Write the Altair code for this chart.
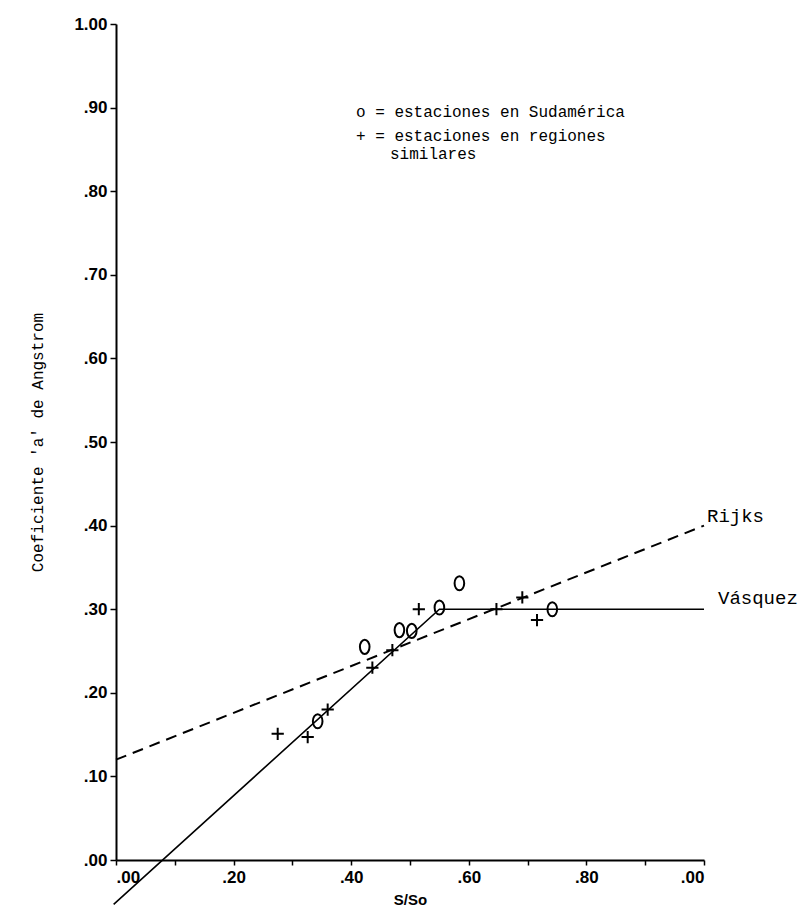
import altair as alt
import pandas as pd

# ---- data ----
sud_x = [0.343, 0.423, 0.482, 0.503, 0.550, 0.584, 0.742]
sud_y = [0.166, 0.255, 0.275, 0.274, 0.302, 0.331, 0.300]

sim_x = [0.275, 0.326, 0.360, 0.436, 0.470, 0.515, 0.647, 0.691, 0.716]
sim_y = [0.151, 0.147, 0.180, 0.230, 0.251, 0.300, 0.300, 0.314, 0.287]

rijks_x = [0.0, 1.0]
rijks_y = [0.12, 0.40]

vasquez_x = [-0.004, 0.55, 1.0]
vasquez_y = [-0.053, 0.30, 0.30]

tick_values = [0.0, 0.1, 0.2, 0.3, 0.4, 0.5, 0.6, 0.7, 0.8, 0.9, 1.0]

line_labels = ["Rijks", "Vásquez"]
line_label_x = [1.0, 1.0]
line_label_y = [0.40, 0.30]

legend_lines = ["o = estaciones en Sudamérica", "+ = estaciones en regiones"]
legend_extra = ["similares"]
y_title = "Coeficiente 'a' de Angstrom"
x_title = "S/So"

# ---- tables ----
sud = pd.DataFrame({"x": sud_x, "y": sud_y})
sim = pd.DataFrame({"x": sim_x, "y": sim_y})
rijks = pd.DataFrame({"x": rijks_x, "y": rijks_y})
vasq = pd.DataFrame({"x": vasquez_x, "y": vasquez_y})

MONO = "Liberation Mono"
SANS = "Liberation Sans"

x_axis = alt.Axis(
    values=tick_values,
    labelExpr="round(datum.value*10) % 2 == 1 ? '' : (datum.value > 0.99 ? '.00' : replace(format(datum.value, '.2f'), '0.', '.'))",
    grid=False, domainColor="black", domainWidth=2, tickColor="black",
    tickWidth=1.5, tickSize=5, labelColor="black", labelFont=SANS,
    labelFontWeight="bold", labelFontSize=17, labelPadding=4,
    title=x_title, titleFont=SANS, titleFontWeight="bold", titleFontSize=15,
    titleColor="black", titlePadding=7,
)
y_axis = alt.Axis(
    values=tick_values,
    labelExpr="datum.value > 0.99 ? '1.00' : replace(format(datum.value, '.2f'), '0.', '.')",
    grid=False, domainColor="black", domainWidth=2, tickColor="black",
    tickWidth=1.5, tickSize=6, labelColor="black", labelFont=SANS,
    labelFontWeight="bold", labelFontSize=17, labelPadding=3,
    title=y_title, titleFont=MONO, titleFontWeight="normal", titleFontSize=16,
    titleColor="black", titlePadding=28,
)

x_enc = alt.X("x:Q", scale=alt.Scale(domain=[0, 1], nice=False, zero=False), axis=x_axis)
y_enc = alt.Y("y:Q", scale=alt.Scale(domain=[0, 1], nice=False, zero=False), axis=y_axis)

vasq_line = alt.Chart(vasq).mark_line(color="black", strokeWidth=1.6).encode(
    x=x_enc, y=y_enc, order="x:Q")
rijks_line = alt.Chart(rijks).mark_line(color="black", strokeWidth=2, strokeDash=[11, 7]).encode(
    x=x_enc, y=y_enc)

O_PATH = "M0,-1 A0.68,1 0 1,1 0,1 A0.68,1 0 1,1 0,-1 Z"
PLUS_PATH = "M-1,0 L1,0 M0,-1 L0,1"

sud_pts = alt.Chart(sud).mark_point(shape=O_PATH, size=200, filled=False, color="black",
                                    strokeWidth=2, opacity=1).encode(x=x_enc, y=y_enc)
sim_pts = alt.Chart(sim).mark_point(shape=PLUS_PATH, size=150, filled=False, color="black",
                                    strokeWidth=2, opacity=1).encode(x=x_enc, y=y_enc)

lbl = pd.DataFrame({"x": line_label_x, "y": line_label_y, "t": line_labels})
rijks_lbl = alt.Chart(lbl.iloc[[0]]).mark_text(align="left", baseline="middle", dx=3, dy=-10,
                                               font=MONO, fontSize=19, color="black").encode(
    x=x_enc, y=y_enc, text="t:N")
vasq_lbl = alt.Chart(lbl.iloc[[1]]).mark_text(align="left", baseline="middle", dx=14, dy=-11,
                                              font=MONO, fontSize=19, color="black").encode(
    x=x_enc, y=y_enc, text="t:N")

leg = pd.DataFrame({"t": legend_lines})
leg1 = alt.Chart(leg.iloc[[0]]).mark_text(align="left", baseline="middle", font=MONO,
                                          fontSize=16, color="black").encode(
    x=alt.value(240), y=alt.value(88), text="t:N")
leg2 = alt.Chart(leg.iloc[[1]]).mark_text(align="left", baseline="middle", font=MONO,
                                          fontSize=16, color="black").encode(
    x=alt.value(240), y=alt.value(112), text="t:N")
leg3 = alt.Chart(pd.DataFrame({"t": legend_extra})).mark_text(
    align="left", baseline="middle", font=MONO, fontSize=16, color="black").encode(
    x=alt.value(274), y=alt.value(130), text="t:N")

chart = alt.layer(
    vasq_line, rijks_line, sud_pts, sim_pts, rijks_lbl, vasq_lbl, leg1, leg2, leg3
).properties(
    width=588, height=836,
    padding={"left": 116, "top": 24, "right": 104, "bottom": 59},
    autosize=alt.AutoSizeParams(type="none"),
    background="white",
).configure_view(stroke=None)

chart.save("out.html", embed_options={"renderer": "svg", "actions": False})
